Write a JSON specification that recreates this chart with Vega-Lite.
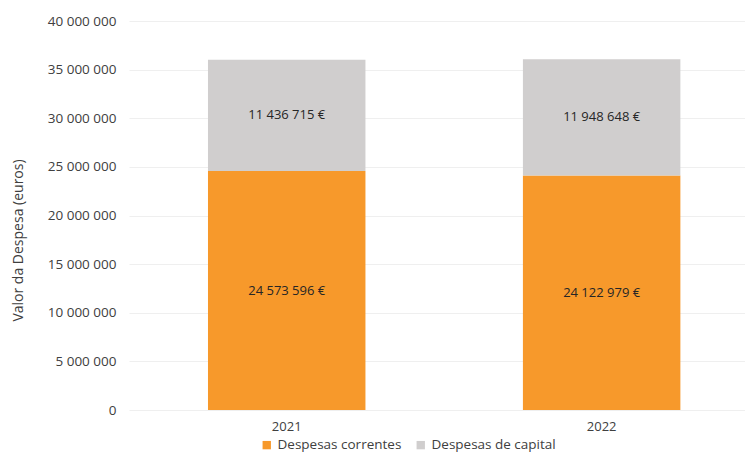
{
  "$schema": "https://vega.github.io/schema/vega-lite/v6.json",
  "autosize": "none",
  "width": 616,
  "height": 389,
  "padding": {"left": 129, "top": 21, "right": 0, "bottom": 46},
  "background": "white",
  "config": {
    "view": {"stroke": null},
    "font": "Open Sans",
    "locale": {
      "number": {"decimal": ",", "thousands": " ", "grouping": [3], "currency": ["", " €"]}
    }
  },
  "data": {
    "values": [
      {"ano": "2021", "tipo": "Despesas correntes", "ordem": 1, "valor": 24573596},
      {"ano": "2021", "tipo": "Despesas de capital", "ordem": 2, "valor": 11436715},
      {"ano": "2022", "tipo": "Despesas correntes", "ordem": 1, "valor": 24122979},
      {"ano": "2022", "tipo": "Despesas de capital", "ordem": 2, "valor": 11948648}
    ]
  },
  "encoding": {
    "x": {
      "field": "ano",
      "type": "nominal",
      "scale": {"paddingInner": 0.5, "paddingOuter": 0.228, "align": 0.55},
      "axis": {
        "title": null,
        "labelAngle": 0,
        "labelFontSize": 13,
        "labelColor": "#404040",
        "labelPadding": 10,
        "ticks": false,
        "domain": false
      }
    },
    "y": {
      "field": "valor",
      "type": "quantitative",
      "stack": "zero",
      "scale": {"domain": [0, 40000000], "nice": false},
      "axis": {
        "title": "Valor da Despesa  (euros)",
        "titleFontSize": 14,
        "titleFontWeight": "normal",
        "titleColor": "#404040",
        "titleX": -111,
        "titleY": 219,
        "titleBaseline": "middle",
        "titleAlign": "center",
        "titleAngle": -90,
        "values": [0, 5000000, 10000000, 15000000, 20000000, 25000000, 30000000, 35000000, 40000000],
        "format": ",.0f",
        "labelFontSize": 13.5,
        "labelColor": "#404040",
        "labelPadding": 13,
        "ticks": false,
        "domain": false,
        "gridColor": "#EFEFEF",
        "gridWidth": 1
      }
    },
    "order": {"field": "ordem", "type": "quantitative"}
  },
  "layer": [
    {
      "mark": {"type": "bar"},
      "encoding": {
        "color": {
          "field": "tipo",
          "type": "nominal",
          "scale": {"domain": ["Despesas correntes", "Despesas de capital"], "range": ["#F7992B", "#D0CECE"]},
          "legend": {
            "title": null,
            "orient": "none",
            "direction": "horizontal",
            "legendX": 131,
            "legendY": 417,
            "symbolType": "square",
            "symbolSize": 70,
            "symbolStrokeWidth": 0,
            "labelFontSize": 13.5,
            "labelColor": "#404040",
            "columnPadding": 12,
            "labelOffset": 4
          }
        }
      }
    },
    {
      "mark": {"type": "text", "fontSize": 13, "color": "#262626", "baseline": "middle", "align": "center"},
      "encoding": {
        "y": {"field": "valor", "type": "quantitative", "stack": "zero", "bandPosition": 0.5},
        "text": {"field": "valor", "type": "quantitative", "format": "$,.0f"}
      }
    }
  ]
}
